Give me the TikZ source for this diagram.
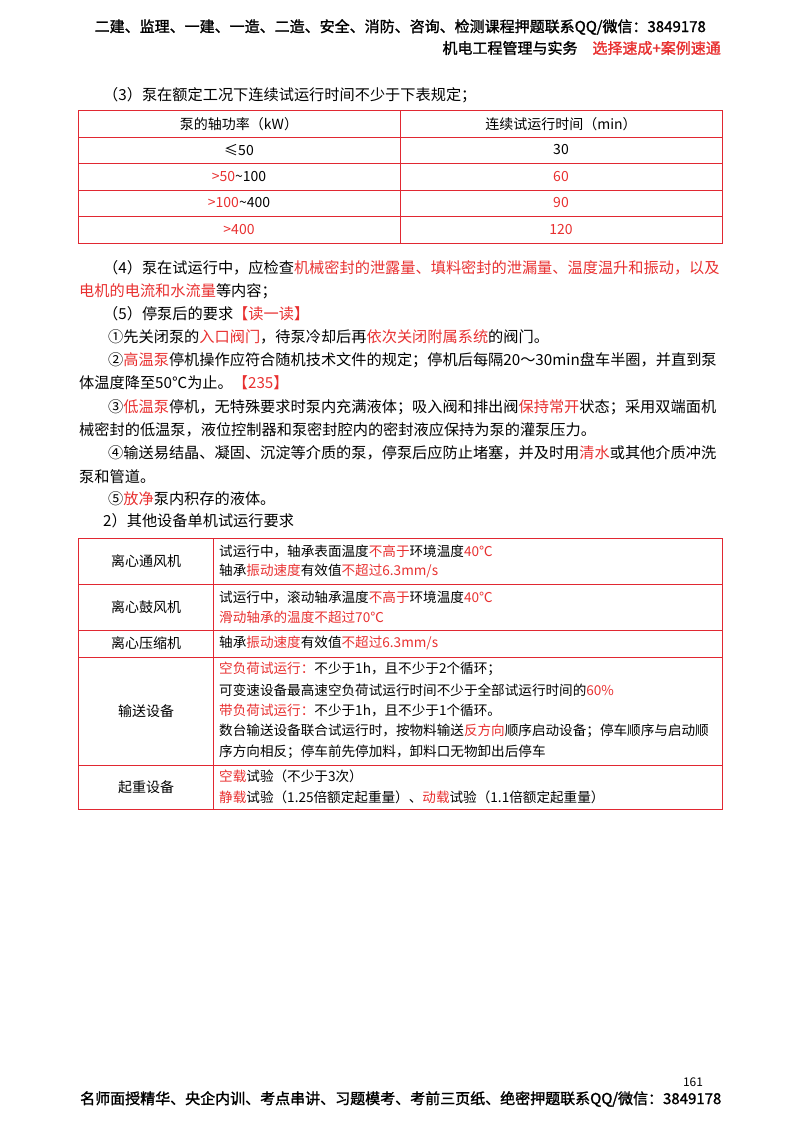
\documentclass[tikz,border=0pt]{standalone}
\usepackage{fontspec}
\setmainfont{Noto Sans CJK SC}
\newfontfamily\cjkb{Noto Sans CJK SC}[FakeBold=1.5]
\definecolor{cR}{RGB}{232,48,48}
\definecolor{tl}{RGB}{225,40,50}
\newcommand{\R}[1]{\textcolor{cR}{#1}}
\begin{document}
\begin{tikzpicture}[x=1pt,y=-1pt,
  txt/.style={anchor=west,inner sep=0pt,font=\fontsize{15.2}{16}\selectfont},
  ttx/.style={anchor=west,inner sep=0pt,font=\fontsize{13.6}{16}\selectfont},
  cc/.style={anchor=center,inner sep=0pt,font=\fontsize{14}{16}\selectfont},
  hd/.style={inner sep=0pt,font=\cjkb\fontsize{15}{16}\selectfont},
  tb/.style={draw=tl,line width=1pt},
  tbi/.style={draw=tl,line width=0.7pt}]
\useasboundingbox (0,0) rectangle (800,1124);
% header
\node[hd,anchor=east] (h1) at (706,27) {二建、监理、一建、一造、二造、安全、消防、咨询、检测课程押题联系QQ/微信：3849178};
\node[hd,anchor=east] (h2) at (721,48) {机电工程管理与实务\quad\R{选择速成+案例速通}};
% (3)
\node[txt] (p3) at (103,95) {（3）泵在额定工况下连续试运行时间不少于下表规定；};
% table 1
\draw[tb] (78,110) rectangle (722,243);
\foreach \y in {137,163,190,216} \draw[tbi] (78,\y) -- (722,\y);
\draw[tbi] (400,110) -- (400,243);
\node[cc] (a1) at (239,124) {泵的轴功率（kW）};
\node[cc] (b1) at (561,124) {连续试运行时间（min）};
\node[cc] (a2) at (239,150) {≤50};
\node[cc] (b2) at (561,150) {30};
\node[cc] (a3) at (239,177) {\R{>50}\textasciitilde100};
\node[cc] (b3) at (561,177) {\R{60}};
\node[cc] (a4) at (239,203) {\R{>100}\textasciitilde400};
\node[cc] (b4) at (561,203) {\R{90}};
\node[cc] (a5) at (239,230) {\R{>400}};
\node[cc] (b5) at (561,230) {\R{120}};
% paragraphs
\node[txt] (l1) at (103,268) {（4）泵在试运行中，应检查\R{机械密封的泄露量、填料密封的泄漏量、温度温升和振动，以及}};
\node[txt] (l2) at (79,291) {\R{电机的电流和水流量}等内容；};
\node[txt] (l3) at (103,314) {（5）停泵后的要求\R{【读一读】}};
\node[txt] (l4) at (108,337) {①先关闭泵的\R{入口阀门}，待泵冷却后再\R{依次关闭附属系统}的阀门。};
\node[txt] (l5) at (108,360) {②\R{高温泵}停机操作应符合随机技术文件的规定；停机后每隔20～30min盘车半圈，并直到泵};
\node[txt] (l6) at (79,383) {体温度降至50℃为止。\R{【235】}};
\node[txt] (l7) at (108,407) {③\R{低温泵}停机，无特殊要求时泵内充满液体；吸入阀和排出阀\R{保持常开}状态；采用双端面机};
\node[txt] (l8) at (79,430) {械密封的低温泵，液位控制器和泵密封腔内的密封液应保持为泵的灌泵压力。};
\node[txt] (l9) at (108,453) {④输送易结晶、凝固、沉淀等介质的泵，停泵后应防止堵塞，并及时用\R{清水}或其他介质冲洗};
\node[txt] (l10) at (79,477) {泵和管道。};
\node[txt] (l11) at (108,499) {⑤\R{放净}泵内积存的液体。};
\node[txt] (l12) at (103,521) {2）其他设备单机试运行要求};
% table 2
\draw[tb] (78,538) rectangle (722,809);
\foreach \y in {584,630,657,765} \draw[tbi] (78,\y) -- (722,\y);
\draw[tbi] (213,538) -- (213,809);
\node[cc] (c1) at (146,561) {离心通风机};
\node[cc] (c2) at (146,607) {离心鼓风机};
\node[cc] (c3) at (146,643) {离心压缩机};
\node[cc] (c4) at (146,711) {输送设备};
\node[cc] (c5) at (146,787) {起重设备};
\begin{scope}[every node/.append style={ttx}]
\node (d1) at (219,551) {试运行中，轴承表面温度\R{不高于}环境温度\R{40℃}};
\node (d2) at (219,571) {轴承\R{振动速度}有效值\R{不超过6.3mm/s}};
\node (d3) at (219,597) {试运行中，滚动轴承温度\R{不高于}环境温度\R{40℃}};
\node (d4) at (219,617) {\R{滑动轴承的温度不超过70℃}};
\node (d5) at (219,643) {轴承\R{振动速度}有效值\R{不超过6.3mm/s}};
\node (d6) at (219,669) {\R{空负荷试运行：}不少于1h，且不少于2个循环；};
\node (d7) at (219,690) {可变速设备最高速空负荷试运行时间不少于全部试运行时间的\R{60\%}};
\node (d8) at (219,711) {\R{带负荷试运行：}不少于1h，且不少于1个循环。};
\node (d9) at (219,731) {数台输送设备联合试运行时，按物料输送\R{反方向}顺序启动设备；停车顺序与启动顺};
\node (d10) at (219,752) {序方向相反；停车前先停加料，卸料口无物卸出后停车};
\node (d11) at (219,776) {\R{空载}试验（不少于3次）};
\node (d12) at (219,797) {\R{静载}试验（1.25倍额定起重量）、\R{动载}试验（1.1倍额定起重量）};
\end{scope}
% footer
\node[hd,anchor=west] (f1) at (80,1099) {名师面授精华、央企内训、考点串讲、习题模考、考前三页纸、绝密押题联系QQ/微信：3849178};
\node[inner sep=0pt,font=\itshape\fontsize{12}{12}\selectfont] (pg) at (693,1082) {161};
\end{tikzpicture}
\end{document}
